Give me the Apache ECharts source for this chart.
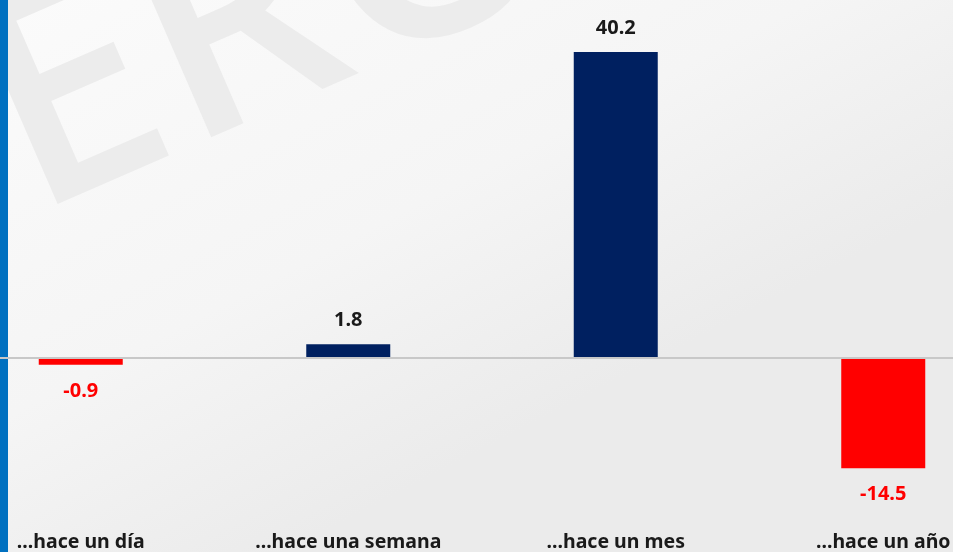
<!DOCTYPE html>
<html>
<head>
<meta charset="utf-8">
<script src="https://cdn.jsdelivr.net/npm/echarts@6/dist/echarts.min.js"></script>
<style>
  html, body { margin: 0; padding: 0; }
  #chart { width: 953px; height: 552px; }
</style>
</head>
<body>
<div id="chart"></div>
<script>
// periodos y variación
const categories = ["...hace un día", "...hace una semana", "...hace un mes", "...hace un año"];
const values = [-0.9, 1.8, 40.2, -14.5];

const navy = "#002060";
const red = "#ff0000";

const chart = echarts.init(document.getElementById("chart"));

chart.setOption({
  backgroundColor: {
    type: "linear", x: 0, y: 0, x2: 0.3, y2: 1,
    colorStops: [
      { offset: 0, color: "#fbfbfb" },
      { offset: 0.6, color: "#f5f5f5" },
      { offset: 1, color: "#ebebeb" },
    ],
  },
  animation: false,
  graphic: [
    {
      type: "text",
      left: -62,
      top: -238,
      rotation: 0.41,
      z: -10,
      style: {
        text: "ERO",
        font: "600 300px 'Open Sans', sans-serif",
        fill: "#ececec",
      },
    },
    {
      type: "rect",
      left: 0,
      top: 0,
      shape: { width: 8, height: 552 },
      style: { fill: "#0070c0" },
    },
  ],
  grid: {
    left: -53,
    right: -64,
    top: 15.5,
    bottom: 41.8,
    outerBoundsMode: "none",
  },
  xAxis: {
    type: "category",
    data: categories,
    axisLine: { show: false, onZero: false },
    axisTick: { show: false },
    axisLabel: {
      margin: 22,
      color: "#1a1a1a",
      fontFamily: "Noto Sans",
      fontWeight: "bold",
      fontSize: 19.5,
    },
  },
  yAxis: {
    type: "value",
    min: -20,
    max: 45,
    show: false,
    splitLine: { show: false },
  },
  series: [
    {
      type: "bar",
      barWidth: 84,
      data: values.map((v) => ({
        value: v,
        itemStyle: { color: v < 0 ? red : navy },
        label: {
          position: v < 0 ? "bottom" : "top",
          distance: v < 0 ? 16 : 14,
          color: v < 0 ? red : "#1a1a1a",
        },
      })),
      label: {
        show: true,
        fontFamily: "Noto Sans",
        fontWeight: "bold",
        fontSize: 20,
        formatter: (p) => p.value.toFixed(1),
      },
      markLine: {
        silent: true,
        symbol: "none",
        label: { show: false },
        lineStyle: { color: "#c8c8c8", width: 2, type: "solid" },
        data: [{ yAxis: 0 }],
      },
    },
  ],
});
</script>
</body>
</html>
